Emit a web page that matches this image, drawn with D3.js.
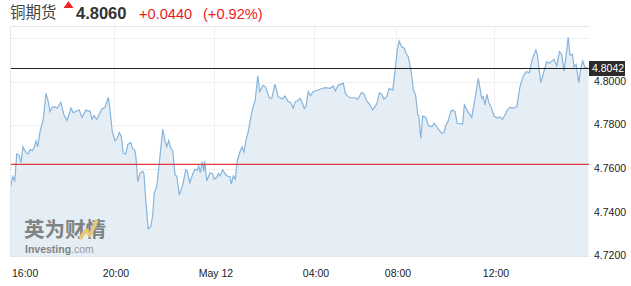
<!DOCTYPE html>
<html>
<head>
<meta charset="utf-8">
<title>铜期货</title>
<script src="https://cdnjs.cloudflare.com/ajax/libs/d3/7.8.5/d3.min.js"></script>
<style>
 body { margin: 0; background: #fff; }
 text { font-family: "Liberation Sans", Arial, sans-serif; }
 .cjk { font-family: "Noto Sans CJK SC", sans-serif; }
 .grid { stroke: #f0f0f0; stroke-width: 1; }
 .frame { stroke: #e6e6e6; stroke-width: 1; fill: none; }
 .area { fill: #e5eef4; }
 .line { fill: none; stroke: #86b4dc; stroke-width: 1.2; }
 .tick-label { font-size: 10.5px; fill: #222; }
</style>
</head>
<body>
<svg id="viz" width="631" height="286"></svg>
<script>

// quote header
var title = "铜期货";
var lastPrice = 4.8060;
var change = "+0.0440";
var changePct = "(+0.92%)";
var prevClose = 4.7620;
var markerText = "4.8042";

// x axis: hours counted from 00:00 on May 11
var tickHours = [16, 20, 24, 28, 32, 36];
var tickLabels = ["16:00", "20:00", "May 12", "04:00", "08:00", "12:00"];

// y axis
var yTicks = [4.72, 4.74, 4.76, 4.78, 4.80];
var yGrid = [4.72, 4.74, 4.76, 4.78, 4.80, 4.82];

// price series
var hours = [
 15.84,15.95,16.03,16.11,16.2,16.28,16.36,16.48,16.56,16.65,
 16.73,16.81,16.88,16.95,17.04,17.17,17.28,17.37,17.44,17.53,
 17.64,17.73,17.87,18.0,18.12,18.28,18.37,18.48,18.61,18.72,
 18.88,18.96,19.04,19.12,19.2,19.31,19.41,19.51,19.64,19.77,
 19.84,19.93,20.04,20.13,20.21,20.29,20.37,20.47,20.55,20.67,
 20.75,20.83,20.88,20.95,21.04,21.15,21.2,21.28,21.37,21.47,
 21.55,21.61,21.71,21.81,21.95,22.05,22.11,22.19,22.27,22.35,
 22.44,22.51,22.61,22.75,22.87,22.93,23.03,23.15,23.24,23.33,
 23.39,23.45,23.53,23.59,23.63,23.71,23.84,23.93,24.01,24.11,
 24.17,24.24,24.35,24.45,24.53,24.64,24.69,24.77,24.85,24.93,
 25.04,25.12,25.2,25.28,25.37,25.47,25.55,25.65,25.75,25.83,
 25.97,26.07,26.21,26.31,26.44,26.57,26.73,26.84,26.95,27.07,
 27.17,27.25,27.35,27.44,27.53,27.61,27.68,27.77,27.86,27.96,
 28.29,28.54,28.78,28.94,29.04,29.19,29.43,29.53,29.67,29.76,
 30.0,30.13,30.33,30.44,30.57,30.73,30.86,31.06,31.19,31.3,
 31.41,31.55,31.67,31.84,31.95,32.05,32.13,32.23,32.34,32.41,
 32.5,32.61,32.71,32.8,32.89,32.93,33.01,33.09,33.22,33.32,
 33.46,33.56,33.7,33.87,33.96,34.04,34.13,34.23,34.31,34.41,
 34.5,34.72,34.79,34.95,35.09,35.25,35.36,35.5,35.56,35.63,
 35.71,35.78,35.91,36.0,36.13,36.24,36.34,36.45,36.56,36.65,
 36.79,36.93,37.06,37.2,37.31,37.44,37.55,37.64,37.71,37.77,
 37.91,38.01,38.15,38.26,38.36,38.45,38.56,38.67,38.76,38.86,
 38.97,39.03,39.1,39.2,39.27,39.35,39.46,39.54,39.62,39.71,
 39.85
];

var prices = [
 4.7503,4.7564,4.7545,4.7668,4.7663,4.7628,4.7701,4.7674,4.7668,4.7689,
 4.7683,4.7699,4.7728,4.7701,4.7770,4.7827,4.7946,4.7908,4.7862,4.7882,
 4.7885,4.7878,4.7905,4.7847,4.7822,4.7878,4.7857,4.7864,4.7870,4.7836,
 4.7870,4.7865,4.7866,4.7827,4.7844,4.7827,4.7850,4.7873,4.7882,4.7928,
 4.7870,4.7770,4.7728,4.7740,4.7767,4.7750,4.7671,4.7668,4.7712,4.7720,
 4.7691,4.7686,4.7651,4.7541,4.7579,4.7589,4.7576,4.7442,4.7325,4.7334,
 4.7388,4.7488,4.7518,4.7625,4.7781,4.7724,4.7701,4.7729,4.7694,4.7683,
 4.7572,4.7567,4.7480,4.7526,4.7595,4.7587,4.7536,4.7576,4.7598,4.7594,
 4.7613,4.7582,4.7633,4.7587,4.7636,4.7545,4.7582,4.7579,4.7552,4.7561,
 4.7579,4.7568,4.7595,4.7576,4.7567,4.7564,4.7530,4.7568,4.7552,4.7637,
 4.7678,4.7701,4.7678,4.7732,4.7770,4.7836,4.7878,4.7916,4.8027,4.7954,
 4.7984,4.7974,4.7926,4.7923,4.7988,4.7931,4.7920,4.7934,4.7911,4.7903,
 4.7878,4.7908,4.7912,4.7923,4.7903,4.7877,4.7888,4.7954,4.7935,4.7954,
 4.7965,4.7972,4.7969,4.7980,4.7958,4.7984,4.7992,4.7946,4.7931,4.7926,
 4.7926,4.7919,4.7951,4.7943,4.7912,4.7893,4.7870,4.7897,4.7949,4.7942,
 4.7920,4.7931,4.7969,4.7961,4.8045,4.8145,4.8186,4.8160,4.8153,4.8130,
 4.8114,4.8053,4.7961,4.7939,4.7847,4.7842,4.7740,4.7842,4.7836,4.7798,
 4.7793,4.7809,4.7786,4.7763,4.7766,4.7801,4.7819,4.7862,4.7870,4.7862,
 4.7809,4.7805,4.7893,4.7859,4.7836,4.7939,4.8015,4.7923,4.7931,4.7893,
 4.7942,4.7908,4.7874,4.7842,4.7833,4.7839,4.7827,4.7847,4.7873,4.7882,
 4.7878,4.7885,4.7977,4.8026,4.8045,4.8041,4.8096,4.8127,4.8145,4.8122,
 4.7995,4.8035,4.8091,4.8084,4.8094,4.8102,4.8072,4.8137,4.8127,4.8049,
 4.8145,4.8203,4.8122,4.8125,4.8068,4.8079,4.7995,4.8061,4.8094,4.8066,
 4.8061
];

window.addEventListener("load", run);

function run() {

    var svg = d3.select("#viz");

    // plot box
    var left = 10, right = 589, top = 26, bottom = 256;

    // the session gap before 08:00 squeezes that stretch, so the scale is piecewise
    var x = d3.scaleLinear()
        .domain(tickHours)
        .range([14, 114, 214, 314, 396, 494]);

    var y = d3.scaleLinear()
        .domain([4.72, 4.82])
        .range([bottom, 38]);

    var data = d3.zip(hours, prices);

    // header
    var head = svg.append("g");
    head.append("text").attr("class", "cjk")
        .attr("x", 10).attr("y", 18)
        .style("font-size", "15.5px").style("fill", "#444")
        .text(title);
    head.append("path")
        .attr("d", "M64.5,7.5 L68.5,2 L72.5,7.5 Z")
        .style("fill", "#e8262a").style("stroke", "#e8262a")
        .style("stroke-width", 1.2).style("stroke-linejoin", "round");
    head.append("text")
        .attr("x", 76).attr("y", 18.5)
        .style("font-size", "16.5px").style("font-weight", "bold").style("fill", "#333")
        .text(d3.format(".4f")(lastPrice));
    head.append("text")
        .attr("x", 139).attr("y", 18.5)
        .style("font-size", "14.6px").style("fill", "#ee1c1c")
        .text(change);
    head.append("text")
        .attr("x", 203).attr("y", 18.5)
        .style("font-size", "14.6px").style("fill", "#ee1c1c")
        .text(changePct);

    svg.append("defs").append("clipPath").attr("id", "clip")
        .append("rect").attr("x", left).attr("y", top)
        .attr("width", right - left).attr("height", bottom - top);

    // gridlines
    svg.append("g").selectAll("line").data(yGrid).enter().append("line")
        .attr("class", "grid")
        .attr("x1", left).attr("x2", right)
        .attr("y1", function(d) { return Math.round(y(d)) + 0.5; })
        .attr("y2", function(d) { return Math.round(y(d)) + 0.5; });

    svg.append("g").selectAll("line").data(tickHours.slice(1)).enter().append("line")
        .attr("class", "grid")
        .attr("x1", function(d) { return Math.round(x(d)) + 0.5; })
        .attr("x2", function(d) { return Math.round(x(d)) + 0.5; })
        .attr("y1", top).attr("y2", bottom);

    var area = d3.area()
        .x(function(d) { return x(d[0]); })
        .y0(bottom)
        .y1(function(d) { return y(d[1]); });

    var line = d3.line()
        .x(function(d) { return x(d[0]); })
        .y(function(d) { return y(d[1]); });

    var plot = svg.append("g").attr("clip-path", "url(#clip)");

    plot.append("path").datum(data).attr("class", "area").attr("d", area);

    // watermark
    var logo = svg.append("g").style("opacity", 0.85);
    logo.append("text").attr("class", "cjk")
        .attr("x", 24).attr("y", 236.5)
        .style("font-size", "20.5px").style("font-weight", "bold").style("fill", "#707070")
        .text("英为财情");
    logo.append("path")
        .attr("d", "M80,239 L86,230 L90,235 L97,220")
        .style("fill", "none").style("stroke", "#e7c35e").style("stroke-width", 3.5);
    var inv = logo.append("text").attr("x", 25).attr("y", 252.5)
        .style("font-size", "10.5px").style("fill", "#707070");
    inv.append("tspan").style("font-weight", "bold").text("Investing");
    inv.append("tspan").style("fill", "#8a8a8a").text(".com");

    plot.append("path").datum(data).attr("class", "line").attr("d", line);

    // previous close and last price lines
    svg.append("line")
        .attr("x1", left).attr("x2", right)
        .attr("y1", y(prevClose)).attr("y2", y(prevClose))
        .style("stroke", "#e03c3c").style("stroke-width", 1.2);

    svg.append("line")
        .attr("x1", left).attr("x2", right)
        .attr("y1", y(lastPrice)).attr("y2", y(lastPrice))
        .style("stroke", "#222").style("stroke-width", 1.2);

    // frame
    svg.append("path").attr("class", "frame")
        .attr("d", "M" + (right + 0.5) + "," + (top + 0.5) +
                   " H" + (left + 0.5) + " V" + (bottom + 0.5) + " H" + (right + 0.5));

    // y labels on the right
    svg.append("g").selectAll("text").data(yTicks).enter().append("text")
        .attr("class", "tick-label")
        .attr("x", 594)
        .attr("y", function(d) { return y(d); })
        .attr("dy", "0.3em")
        .text(function(d) { return d3.format(".4f")(d); });

    // marker box for the current value
    svg.append("rect")
        .attr("x", 589).attr("y", y(lastPrice) - 7.5)
        .attr("width", 36).attr("height", 15)
        .style("fill", "#2b2b2b");
    svg.append("text")
        .attr("class", "tick-label")
        .attr("x", 592).attr("y", y(lastPrice))
        .attr("dy", "0.35em")
        .style("fill", "#fff")
        .text(markerText);

    // x labels
    svg.append("g").selectAll("text").data(tickHours).enter().append("text")
        .attr("class", "tick-label")
        .attr("x", function(d, i) { return i === 0 ? left + 2 : x(d) + 2; })
        .attr("y", 277)
        .style("text-anchor", function(d, i) { return i === 0 ? "start" : "middle"; })
        .text(function(d, i) { return tickLabels[i]; });
}

</script>
</body>
</html>
